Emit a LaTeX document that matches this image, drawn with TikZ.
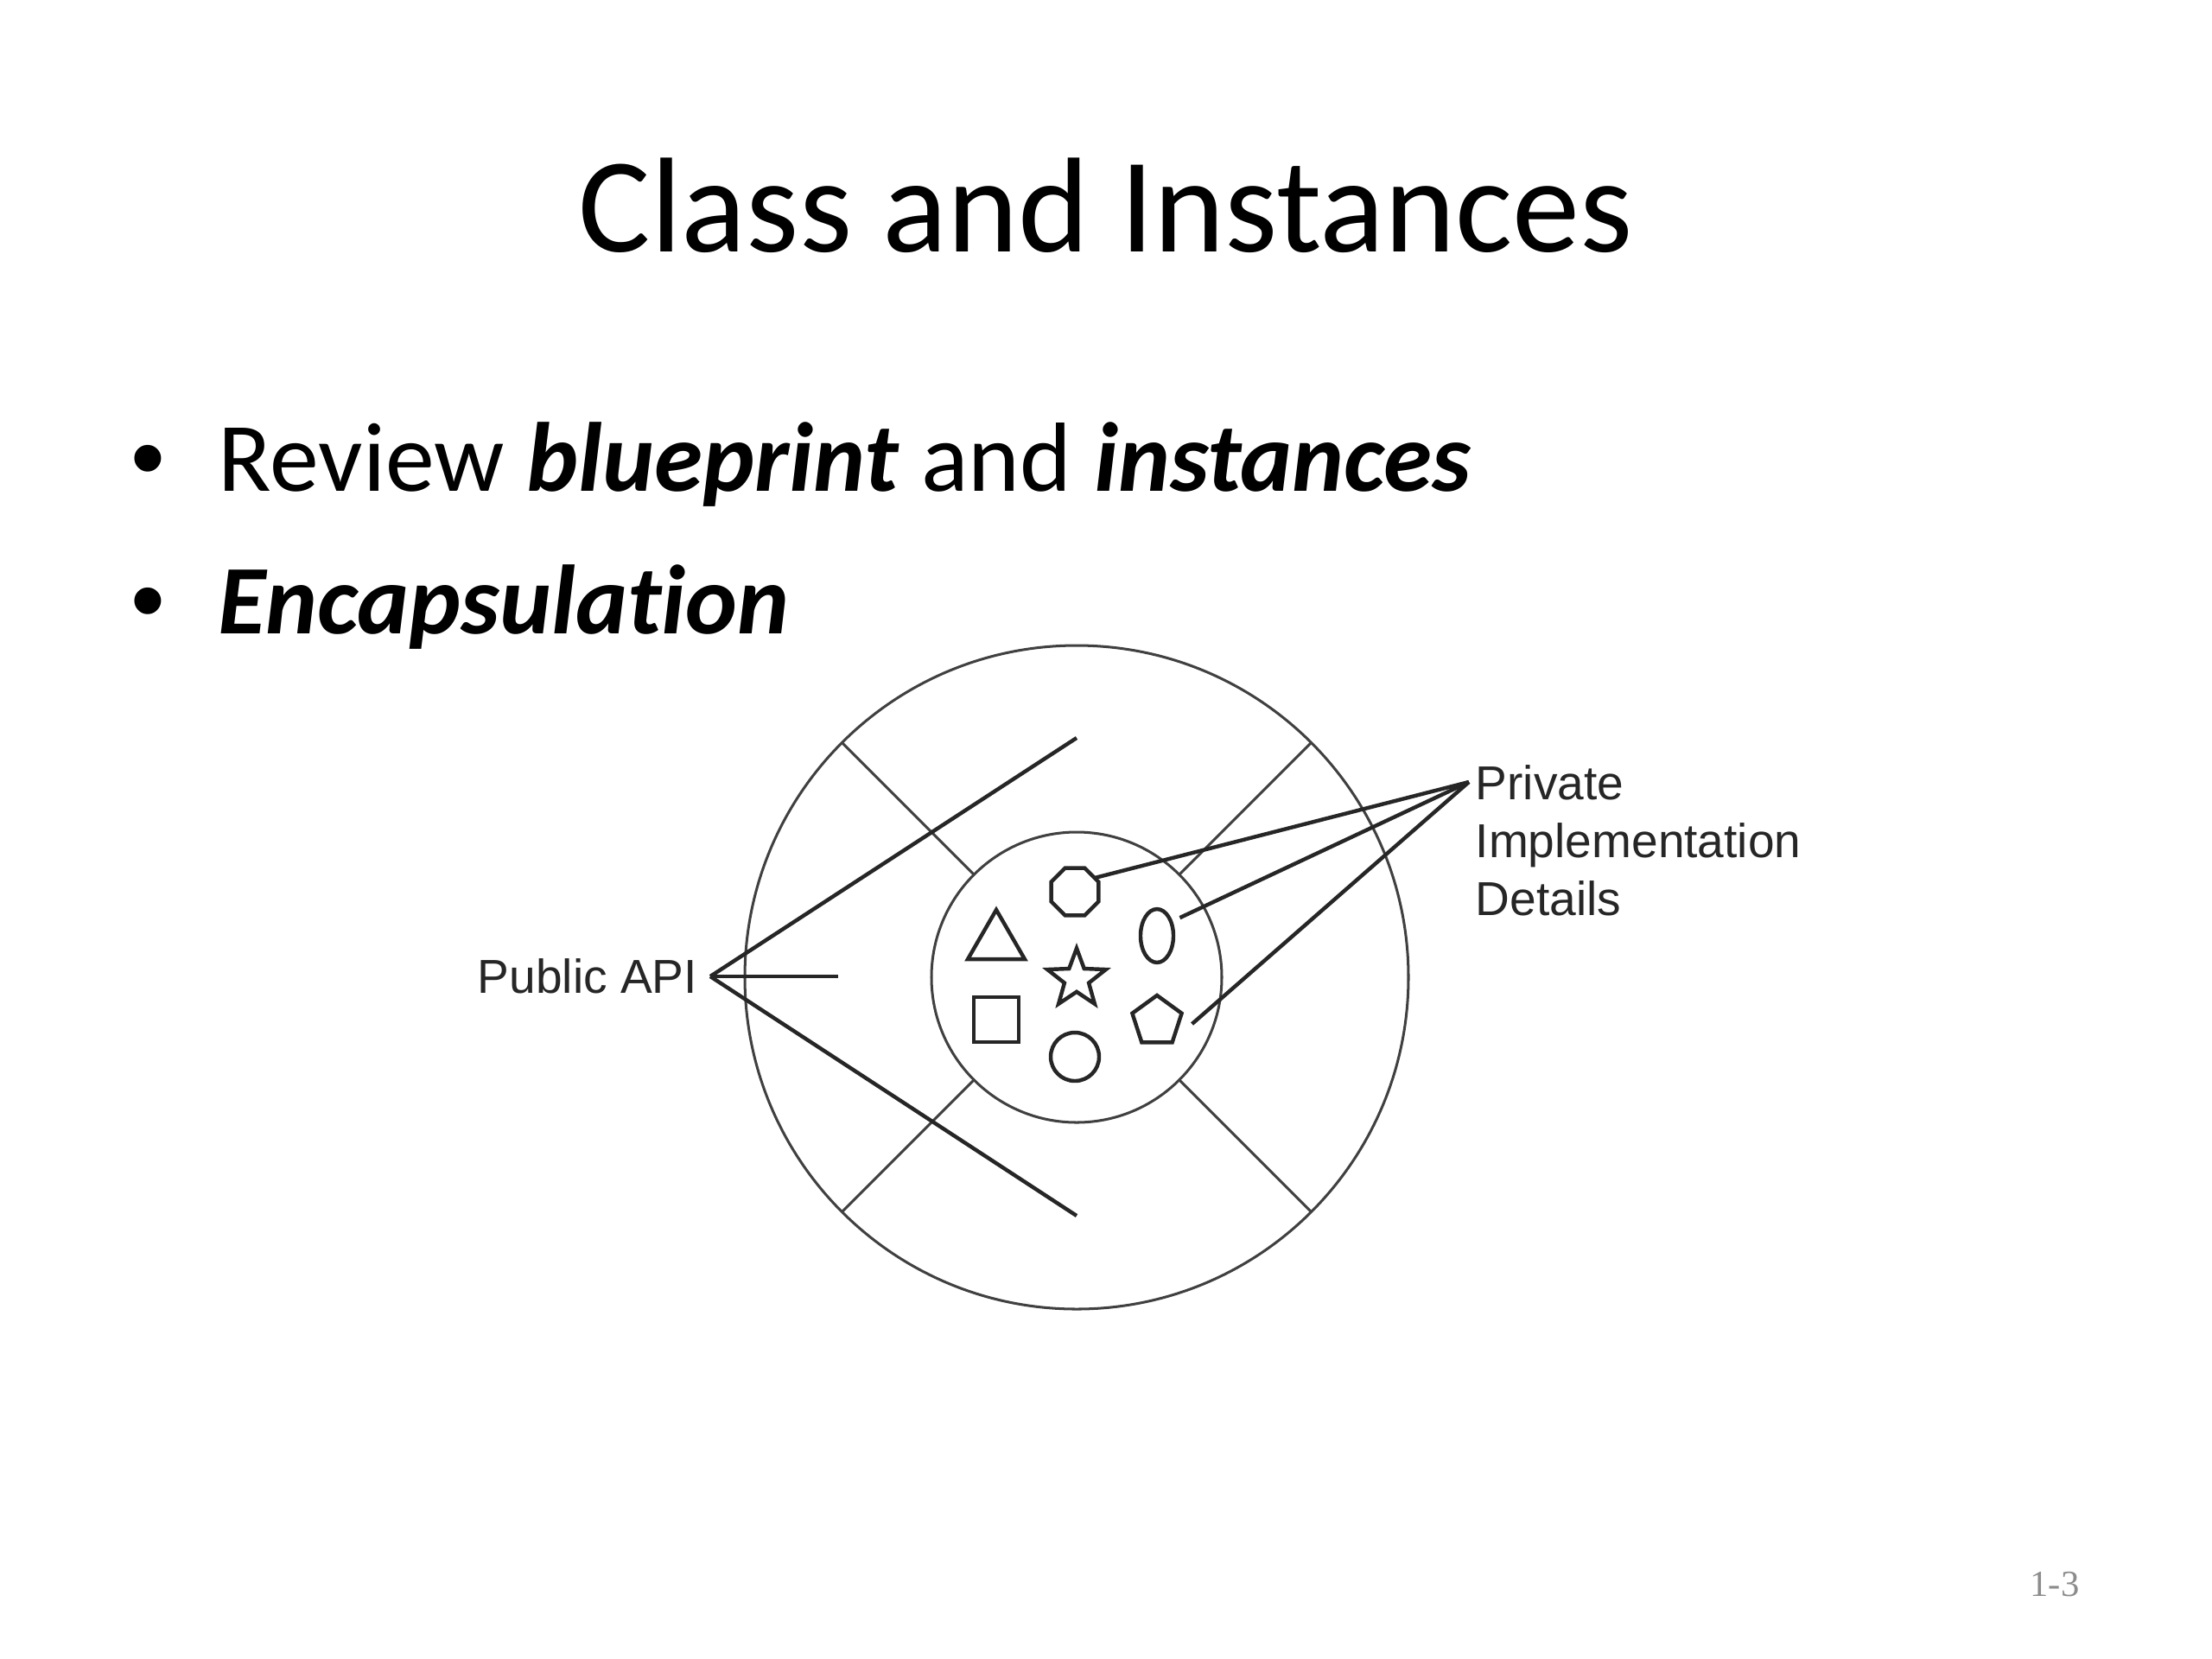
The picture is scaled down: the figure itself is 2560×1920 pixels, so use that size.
\documentclass[tikz,border=0pt]{standalone}
\usepackage{fontspec}
\setmainfont{Carlito}[Ligatures=NoCommon]
\newfontfamily\arialfont{Liberation Sans}
\newfontfamily\timesfont{Liberation Serif}
\usetikzlibrary{shapes.geometric, positioning}

\tikzset{
  ring/.style={circle, draw=black!75, line width=0.85bp, inner sep=0pt, outer sep=0pt},
  spoke/.style={draw=black!75, line width=0.85bp},
  piece/.style={draw=black!85, line width=1.25bp, inner sep=0pt, outer sep=0pt},
  pointer/.style={draw=black!85, line width=1.25bp},
  caption/.style={font=\arialfont\fontsize{15.5bp}{18.8bp}\selectfont, text=black!85, inner sep=0pt},
  bodytext/.style={font=\fontsize{32bp}{38bp}\selectfont, inner sep=0pt},
}

\begin{document}
\begin{tikzpicture}[x=0.28125bp, y=-0.28125bp]
\useasboundingbox (0,0) rectangle (2560,1920);

% slide text
\node[anchor=base, inner sep=0pt, font=\fontsize{44bp}{53bp}\selectfont] (title) at (1280,291) {Class and Instances};
\node[bodytext, anchor=base] (dotA) at (171,568) {\arialfont •};
\node[bodytext, anchor=base west] (first) at (252,568) {Review \textbf{\textit{blueprint}} and \textbf{\textit{instances}}};
\node[bodytext, anchor=base] (dotB) at (171,733) {\arialfont •};
\node[bodytext, anchor=base west] (second) at (252,733) {\textbf{\textit{Encapsulation}}};
\node[anchor=base, inner sep=0pt, text=black!45, font=\timesfont\fontsize{12bp}{14bp}\selectfont] (pageno) at (2378,1847) {1-3};

% rings
\node[ring, minimum size=216bp] (outer) at (1246,1131) {};
\node[ring, minimum size=94.5bp] (inner) at (outer.center) {};
\foreach \a in {45,135,225,315}
  \draw[spoke] (inner.\a) -- (outer.\a);

% members
\node[piece, regular polygon, regular polygon sides=8, minimum size=16.7bp] (oct) at (1244,1032) {};
\node[piece, regular polygon, regular polygon sides=3, minimum size=21.4bp] (tri) at (1153,1091) {};
\node[piece, ellipse, minimum width=10.7bp, minimum height=17.4bp] (ell) at (1339,1083) {};
\node[piece, star, star points=5, star point ratio=2.4, minimum size=20bp] (star) at (1246,1133) {};
\node[piece, rectangle, minimum size=14.6bp] (sq) at (1153,1180) {};
\node[piece, regular polygon, regular polygon sides=5, minimum size=16.9bp] (pent) at (1339,1182) {};
\node[piece, circle, minimum size=15.75bp] (dot) at (1244,1223) {};

% public api
\coordinate (apiTip) at (822,1130);
\node[caption, left=4bp of apiTip] (api) {Public API};
\coordinate (apiUp) at (1246,854);
\coordinate (apiMid) at (970,1130);
\coordinate (apiDown) at (1246,1407);
\draw[pointer] (apiTip) -- (apiUp);
\draw[pointer] (apiTip) -- (apiMid);
\draw[pointer] (apiTip) -- (apiDown);

% private details
\coordinate (privTip) at (1700,905);
\node[caption, align=left, anchor=north west] (priv) at (1707,885) {Private\\Implementation\\Details};
\draw[pointer] (privTip) -- (oct.35);
\draw[pointer] (privTip) -- ([shift={(13,1)}]ell.north east);
\draw[pointer] (privTip) -- ([shift={(15,3)}]pent.east);
\end{tikzpicture}
\end{document}
